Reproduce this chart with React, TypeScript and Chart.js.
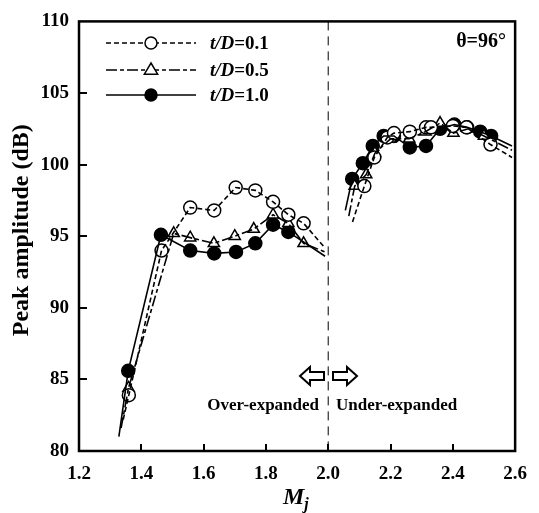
import React, { useEffect, useRef } from "react";
import { Chart, registerables } from "chart.js";
Chart.register(...registerables);

// ---- data (Mj, peak amplitude dB) ----
const td01LeftM = [1.36, 1.465, 1.557, 1.634, 1.703, 1.766, 1.823, 1.872, 1.921];
const td01LeftV = [83.9, 94.0, 97.0, 96.8, 98.4, 98.2, 97.4, 96.5, 95.9];
const td01RightM = [2.116, 2.148, 2.19, 2.211, 2.262, 2.314, 2.33, 2.4, 2.444, 2.521];
const td01RightV = [98.5, 100.5, 101.9, 102.2, 102.3, 102.6, 102.6, 102.7, 102.6, 101.4];

const td05LeftM = [1.359, 1.504, 1.557, 1.633, 1.7, 1.761, 1.823, 1.872, 1.921];
const td05LeftV = [84.4, 95.2, 94.9, 94.5, 95.0, 95.5, 96.5, 95.9, 94.5];
const td05RightM = [2.085, 2.122, 2.15, 2.2, 2.26, 2.312, 2.359, 2.402, 2.45, 2.5];
const td05RightV = [98.5, 99.3, 100.8, 101.8, 101.8, 102.3, 102.9, 102.2, 102.5, 102.0];

const td10LeftM = [1.358, 1.463, 1.557, 1.634, 1.704, 1.766, 1.823, 1.872];
const td10LeftV = [85.6, 95.1, 94.0, 93.8, 93.9, 94.5, 95.8, 95.3];
const td10RightM = [2.077, 2.111, 2.143, 2.178, 2.211, 2.262, 2.314, 2.359, 2.405, 2.446, 2.488, 2.523];
const td10RightV = [99.0, 100.1, 101.3, 102.0, 102.0, 101.2, 101.3, 102.5, 102.8, 102.6, 102.3, 102.0];

// curve end points (where the fitted lines start / stop)
const td01CurveEndsM = [1.342, 1.985, 2.078, 2.59];
const td01CurveEndsV = [82.2, 94.3, 96.0, 100.5];
const td05CurveEndsM = [1.335, 1.99, 2.066, 2.59];
const td05CurveEndsV = [81.6, 93.9, 96.4, 101.0];
const td10CurveEndsM = [1.328, 1.99, 2.055, 2.59];
const td10CurveEndsV = [81.0, 93.6, 96.8, 101.3];

const seriesLabels = ["0.1", "0.5", "1.0"];
const xMin = 1.2, xMax = 2.6, xStep = 0.2;
const yMin = 80, yMax = 110, yStep = 5;
const boundaryM = 2.0;

const pts = (m: number[], v: number[]) => m.map((x, i) => ({ x, y: v[i] }));
const curve = (lm: number[], lv: number[], rm: number[], rv: number[], em: number[], ev: number[]) => [
  { x: em[0], y: ev[0] },
  ...pts(lm, lv),
  { x: em[1], y: ev[1] },
  { x: NaN, y: NaN },
  { x: em[2], y: ev[2] },
  ...pts(rm, rv),
  { x: em[3], y: ev[3] },
];

const SERIF = "'Liberation Serif', 'Times New Roman', serif";
const dashes = [[5, 3], [11, 3, 4, 3], []];

function drawMarker(ctx: CanvasRenderingContext2D, kind: number, x: number, y: number) {
  ctx.save();
  ctx.setLineDash([]);
  ctx.lineWidth = 1.5;
  ctx.strokeStyle = "#000";
  ctx.beginPath();
  if (kind === 1) {
    const r = 7;
    ctx.moveTo(x, y - r);
    ctx.lineTo(x + r * 0.95, y + r * 0.6);
    ctx.lineTo(x - r * 0.95, y + r * 0.6);
    ctx.closePath();
  } else {
    ctx.arc(x, y, 6, 0, Math.PI * 2);
  }
  ctx.fillStyle = kind === 2 ? "#000" : "#fff";
  ctx.fill();
  ctx.stroke();
  ctx.restore();
}

const overlay = {
  id: "overlay",
  beforeDatasetsDraw(chart: any) {
    const { ctx, chartArea: a, scales } = chart;
    const xs = scales.x;
    ctx.save();
    const bx = xs.getPixelForValue(boundaryM);
    ctx.strokeStyle = "#000";
    ctx.lineWidth = 1;
    ctx.setLineDash([9, 6]);
    ctx.beginPath();
    ctx.moveTo(bx, a.top);
    ctx.lineTo(bx, a.bottom);
    ctx.stroke();
    ctx.restore();
  },
  afterDatasetsDraw(chart: any) {
    const { ctx, chartArea: a, scales } = chart;
    const xs = scales.x, ys = scales.y;
    ctx.save();
    ctx.setLineDash([]);
    ctx.strokeStyle = "#000";
    ctx.lineWidth = 2.5;
    ctx.strokeRect(a.left, a.top, a.right - a.left, a.bottom - a.top);
    ctx.lineWidth = 2;
    ctx.beginPath();
    for (let v = xMin + xStep; v < xMax - 1e-6; v += xStep) {
      const px = Math.round(xs.getPixelForValue(v));
      ctx.moveTo(px, a.bottom);
      ctx.lineTo(px, a.bottom - 7);
    }
    for (let v = yMin + yStep; v < yMax - 1e-6; v += yStep) {
      const py = Math.round(ys.getPixelForValue(v));
      ctx.moveTo(a.left, py);
      ctx.lineTo(a.left + 8, py);
    }
    ctx.stroke();

    // legend
    const rows = [43, 70, 95];
    rows.forEach((ry, i) => {
      ctx.save();
      ctx.lineWidth = 1.5;
      ctx.setLineDash(dashes[i]);
      ctx.beginPath();
      ctx.moveTo(106, ry);
      ctx.lineTo(196, ry);
      ctx.stroke();
      ctx.restore();
      drawMarker(ctx, i, 151, ry);
      ctx.fillStyle = "#000";
      ctx.textBaseline = "middle";
      ctx.textAlign = "left";
      ctx.font = `italic bold 19px ${SERIF}`;
      const t1 = "t/D";
      ctx.fillText(t1, 210, ry + 1);
      const w1 = ctx.measureText(t1).width;
      ctx.font = `bold 19px ${SERIF}`;
      ctx.fillText("=" + seriesLabels[i], 210 + w1, ry + 1);
    });

    ctx.font = `bold 20px ${SERIF}`;
    ctx.textAlign = "right";
    ctx.textBaseline = "middle";
    ctx.fillText("θ=96°", 506, 42);

    // arrows
    ctx.lineWidth = 2;
    const ay = 376;
    const arrow = (x0: number, dir: number) => {
      const headL = 10, bodyL = 14, hh = 9, bh = 4;
      ctx.beginPath();
      ctx.moveTo(x0, ay);
      ctx.lineTo(x0 - dir * headL, ay - hh);
      ctx.lineTo(x0 - dir * headL, ay - bh);
      ctx.lineTo(x0 - dir * (headL + bodyL), ay - bh);
      ctx.lineTo(x0 - dir * (headL + bodyL), ay + bh);
      ctx.lineTo(x0 - dir * headL, ay + bh);
      ctx.lineTo(x0 - dir * headL, ay + hh);
      ctx.closePath();
      ctx.fillStyle = "#fff";
      ctx.fill();
      ctx.stroke();
    };
    arrow(300, -1);
    arrow(357, 1);

    ctx.fillStyle = "#000";
    ctx.font = `bold 17px ${SERIF}`;
    ctx.textBaseline = "middle";
    ctx.textAlign = "right";
    ctx.fillText("Over-expanded", 319, 406);
    ctx.textAlign = "left";
    ctx.fillText("Under-expanded", 336, 406);

    ctx.save();
    ctx.translate(22, (a.top + a.bottom) / 2 - 6);
    ctx.rotate(-Math.PI / 2);
    ctx.textAlign = "center";
    ctx.textBaseline = "middle";
    ctx.font = `bold 24px ${SERIF}`;
    ctx.fillText("Peak amplitude (dB)", 0, 0);
    ctx.restore();

    ctx.textAlign = "left";
    ctx.textBaseline = "alphabetic";
    ctx.font = `italic bold 24px ${SERIF}`;
    ctx.fillText("M", 283, 504);
    const mw = ctx.measureText("M").width;
    ctx.font = `italic bold 16px ${SERIF}`;
    ctx.fillText("j", 283 + mw, 509);
    ctx.restore();
  },
};

export default function App() {
  const ref = useRef<HTMLCanvasElement>(null);
  useEffect(() => {
    if (!ref.current) return;
    const lineDs = (data: any[], dash: number[]) => ({
      type: "line" as const,
      data,
      borderColor: "#000",
      borderWidth: 1.6,
      borderDash: dash,
      pointRadius: 0,
      fill: false,
      tension: 0,
      spanGaps: false,
      showLine: true,
    });
    const markDs = (data: any[], style: string, bg: string) => ({
      type: "scatter" as const,
      data,
      showLine: false,
      pointStyle: style,
      pointRadius: 6.5,
      pointBorderWidth: 1.5,
      pointBackgroundColor: bg,
      pointBorderColor: "#000",
    });
    const chart = new Chart(ref.current, {
      type: "scatter",
      data: {
        datasets: [
          lineDs(curve(td01LeftM, td01LeftV, td01RightM, td01RightV, td01CurveEndsM, td01CurveEndsV), dashes[0]),
          lineDs(curve(td05LeftM, td05LeftV, td05RightM, td05RightV, td05CurveEndsM, td05CurveEndsV), dashes[1]),
          lineDs(curve(td10LeftM, td10LeftV, td10RightM, td10RightV, td10CurveEndsM, td10CurveEndsV), dashes[2]),
          markDs([...pts(td01LeftM, td01LeftV), ...pts(td01RightM, td01RightV)], "circle", "#fff"),
          markDs([...pts(td05LeftM, td05LeftV), ...pts(td05RightM, td05RightV)], "triangle", "#fff"),
          markDs([...pts(td10LeftM, td10LeftV), ...pts(td10RightM, td10RightV)], "circle", "#000"),
        ] as any,
      },
      options: {
        animation: false,
        responsive: false,
        layout: { padding: { top: 14, right: 18, left: 0, bottom: 0 } },
        plugins: { legend: { display: false }, tooltip: { enabled: false } },
        scales: {
          x: {
            type: "linear",
            min: xMin,
            max: xMax,
            grid: { display: false, drawTicks: false },
            border: { display: false },
            ticks: {
              stepSize: xStep,
              padding: 12,
              color: "#000",
              font: { family: SERIF, size: 19, weight: "bold" },
              callback: (v: any) => Number(v).toFixed(1),
            },
            afterFit: (s: any) => { s.height = 62; },
          },
          y: {
            type: "linear",
            min: yMin,
            max: yMax,
            grid: { display: false, drawTicks: false },
            border: { display: false },
            ticks: {
              stepSize: yStep,
              padding: 10,
              color: "#000",
              font: { family: SERIF, size: 19, weight: "bold" },
            },
            afterFit: (s: any) => { s.width = 79; },
          },
        },
      } as any,
      plugins: [overlay],
    });
    return () => chart.destroy();
  }, []);
  return (
    <div style={{ position: "absolute", left: 0, top: 0, width: 539, height: 513, background: "#fff" }}>
      <canvas ref={ref} width={539} height={513} />
    </div>
  );
}
